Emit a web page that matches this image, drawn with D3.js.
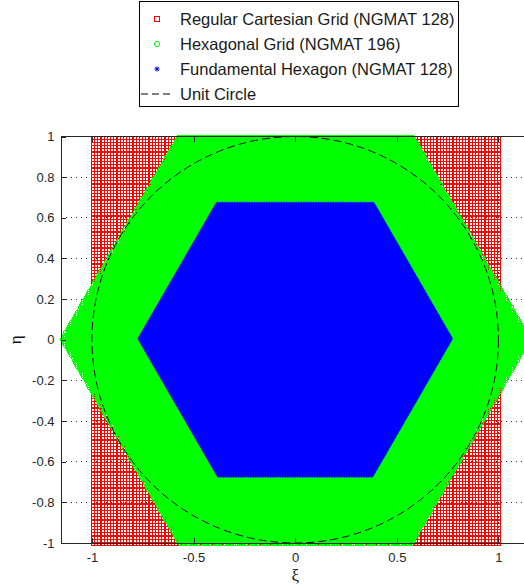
<!DOCTYPE html>
<html>
<head>
<meta charset="utf-8">
<script src="https://cdn.jsdelivr.net/npm/d3@7/dist/d3.min.js"></script>
<style>
  html, body { margin: 0; padding: 0; background: #fff; }
  svg { display: block; }
  text { font-family: "Liberation Sans", Arial, Helvetica, sans-serif; }
</style>
</head>
<body>
<svg id="chart" width="524" height="585"></svg>
<script>
// ---- series definitions -------------------------------------------------
const seriesNames  = ["Regular Cartesian Grid (NGMAT 128)",
                      "Hexagonal Grid (NGMAT 196)",
                      "Fundamental Hexagon (NGMAT 128)",
                      "Unit Circle"];
const seriesColors = ["#ff0000", "#00ff00", "#0000ff", "#000000"];
// number of grid rows for each sampled region
const ngmat        = [128, 196, 128];
// half-height (eta extent) of each sampled region
const halfHeight   = [1, 1, 2 / 3];
const circleRadius = [1];

// ---- axis ticks -----------------------------------------------------------
const xTicks = [-1, -0.5, 0, 0.5, 1];
const yTicks = [-1, -0.8, -0.6, -0.4, -0.2, 0, 0.2, 0.4, 0.6, 0.8, 1];
const xDomain = [-2 / Math.sqrt(3), 2 / Math.sqrt(3)];
const yDomain = [-1, 1];

// ---- layout ---------------------------------------------------------------
const W = 524, H = 585;
const plot = { left: 60.5, top: 136.5, bottom: 543 };
const unit = (plot.bottom - plot.top) / (yDomain[1] - yDomain[0]);
plot.right = plot.left + (xDomain[1] - xDomain[0]) * unit;

const x = d3.scaleLinear().domain(xDomain).range([plot.left, plot.right]);
const y = d3.scaleLinear().domain(yDomain).range([plot.bottom, plot.top]);

const svg = d3.select("#chart");

// ---- point sets -----------------------------------------------------------
// n x n Cartesian grid on [-h, h]^2
function cartesianGrid(n, h) {
  const pts = [];
  for (let i = 0; i < n; i++)
    for (let j = 0; j < n; j++)
      pts.push([-h + 2 * h * i / (n - 1), -h + 2 * h * j / (n - 1)]);
  return pts;
}
// hexagonal lattice with n rows spanning [-h, h], clipped to the
// flat-topped hexagon of half-height h
function hexGrid(n, h) {
  const s3 = Math.sqrt(3);
  const R = 2 * h / s3;
  const dy = 2 * h / (n - 1), dx = 2 * dy / s3;
  const pts = [];
  for (let k = 0; k < n; k++) {
    const eta = -h + k * dy;
    const half = R - Math.abs(eta) / s3 + 1e-9;
    const off = (k % 2) * dx / 2;
    const mMax = Math.ceil(half / dx) + 1;
    for (let m = -mMax; m <= mMax; m++) {
      const xi = m * dx + off;
      if (Math.abs(xi) <= half) pts.push([xi, eta]);
    }
  }
  return pts;
}

const cartPts = cartesianGrid(ngmat[0], halfHeight[0]);
const hexPts  = hexGrid(ngmat[1], halfHeight[1]);
const fundPts = hexGrid(ngmat[2], halfHeight[2]);

// markers are placed on whole pixels, as a screen renderer would
const px = v => Math.round(v) + 0.5;

// ---- marker path builders ---------------------------------------------
function squares(pts, s) {
  let d = "";
  for (const p of pts) {
    const X = px(x(p[0])), Y = px(y(p[1]));
    d += `M${X - s},${Y - s}h${2 * s}v${2 * s}h${-2 * s}Z`;
  }
  return d;
}
function rings(pts, r) {
  let d = "";
  for (const p of pts) {
    const X = px(x(p[0])), Y = px(y(p[1]));
    d += `M${X + r},${Y}A${r},${r} 0 1,1 ${X - r},${Y}A${r},${r} 0 1,1 ${X + r},${Y}`;
  }
  return d;
}
function asterisks(pts, r) {
  let d = "";
  const q = r * 0.7071;
  for (const p of pts) {
    const X = x(p[0]), Y = y(p[1]);
    d += `M${(X - r).toFixed(2)},${Y.toFixed(2)}h${2 * r}` +
         `M${X.toFixed(2)},${(Y - r).toFixed(2)}v${2 * r}` +
         `M${(X - q).toFixed(2)},${(Y - q).toFixed(2)}l${2 * q},${2 * q}` +
         `M${(X - q).toFixed(2)},${(Y + q).toFixed(2)}l${2 * q},${-2 * q}`;
  }
  return d;
}

// ---- grid lines (dotted, beneath the data) ------------------------------
const gridG = svg.append("g")
  .attr("stroke", "#333").attr("stroke-width", 1)
  .attr("stroke-dasharray", "1,4").attr("shape-rendering", "crispEdges");
gridG.selectAll("line.gy").data(yTicks).join("line")
  .attr("x1", plot.left).attr("x2", W)
  .attr("y1", d => y(d)).attr("y2", d => y(d));
gridG.selectAll("line.gx").data(xTicks).join("line")
  .attr("x1", d => x(d)).attr("x2", d => x(d))
  .attr("y1", plot.top).attr("y2", plot.bottom);

// ---- data ------------------------------------------------------------------
svg.append("path")
  .attr("d", squares(cartPts, 1.5))
  .attr("fill", "none").attr("stroke", seriesColors[0])
  .attr("stroke-width", 1).attr("shape-rendering", "crispEdges");

svg.append("path")
  .attr("d", rings(hexPts, 2))
  .attr("fill", "none").attr("stroke", seriesColors[1])
  .attr("stroke-width", 1).attr("shape-rendering", "crispEdges");

svg.append("path")
  .attr("d", asterisks(fundPts, 2.4))
  .attr("fill", "none").attr("stroke", seriesColors[2])
  .attr("stroke-width", 1.2);

svg.append("circle")
  .attr("cx", x(0)).attr("cy", y(0))
  .attr("r", x(circleRadius[0]) - x(0))
  .attr("fill", "none").attr("stroke", seriesColors[3])
  .attr("stroke-width", 1).attr("stroke-dasharray", "8,4");

// ---- axes --------------------------------------------------------------------
const axisColor = "#262626";
const fmt = d => String(d);

const yAxis = svg.append("g")
  .attr("transform", `translate(${plot.left},0)`)
  .call(d3.axisLeft(y).tickValues(yTicks).tickFormat(fmt)
        .tickSizeInner(-5).tickSizeOuter(0).tickPadding(6));
const xAxis = svg.append("g")
  .attr("transform", `translate(0,${plot.bottom})`)
  .call(d3.axisBottom(x).tickValues(xTicks).tickFormat(fmt)
        .tickSizeInner(-5).tickSizeOuter(0).tickPadding(10));
const xTop = svg.append("g")
  .attr("transform", `translate(0,${plot.top})`)
  .call(d3.axisTop(x).tickValues(xTicks).tickFormat("")
        .tickSizeInner(-5).tickSizeOuter(0));

[yAxis, xAxis, xTop].forEach(g => {
  g.attr("font-family", null).attr("font-size", null);
  g.selectAll("path.domain").attr("stroke", axisColor).attr("shape-rendering", "crispEdges");
  g.selectAll(".tick line").attr("stroke", axisColor).attr("shape-rendering", "crispEdges");
  g.selectAll(".tick text").attr("fill", axisColor).style("font-size", "13px");
});
// the top domain continues to the canvas edge
xTop.select("path.domain").attr("d", `M${plot.left},0H${W}`);

// axis titles
svg.append("text")
  .attr("x", x(0)).attr("y", 581)
  .attr("text-anchor", "middle")
  .style("font-family", "'Liberation Serif', 'DejaVu Serif', serif")
  .style("font-size", "17px").attr("fill", "#111")
  .text("ξ");
svg.append("text")
  .attr("transform", `translate(21,${y(0)}) rotate(-90)`)
  .attr("text-anchor", "middle")
  .style("font-family", "'Liberation Serif', 'DejaVu Serif', serif")
  .style("font-size", "17px").attr("fill", "#111")
  .text("η");

// ---- legend ----------------------------------------------------------------
const legend = svg.append("g");
const lg = { x: 139.5, y: 1.5, w: 319, h: 105, rowY0: 19, rowStep: 25, markX: 157, textX: 180 };
legend.append("rect")
  .attr("x", lg.x).attr("y", lg.y).attr("width", lg.w).attr("height", lg.h)
  .attr("fill", "#fff").attr("stroke", "#000").attr("stroke-width", 1);

const rows = legend.selectAll("g.row").data(seriesNames).join("g")
  .attr("transform", (d, i) => `translate(0,${lg.rowY0 + i * lg.rowStep})`);

rows.append("text")
  .attr("x", lg.textX).attr("dy", "0.36em")
  .style("font-size", "16.5px").attr("fill", "#1a1a1a")
  .text(d => d);

rows.each(function (d, i) {
  const g = d3.select(this);
  if (i === 0) {
    g.append("rect").attr("x", lg.markX - 2.5).attr("y", -2.5)
      .attr("width", 5).attr("height", 5)
      .attr("fill", "none").attr("stroke", seriesColors[0]);
  } else if (i === 1) {
    g.append("circle").attr("cx", lg.markX).attr("cy", 0).attr("r", 2.6)
      .attr("fill", "none").attr("stroke", seriesColors[1]);
  } else if (i === 2) {
    g.append("path").attr("d", asterisksAt(lg.markX, 0, 2.6))
      .attr("fill", "none").attr("stroke", seriesColors[2]).attr("stroke-width", 1);
  } else {
    g.append("line").attr("x1", lg.markX - 16).attr("x2", lg.markX + 17)
      .attr("y1", 0).attr("y2", 0)
      .attr("stroke", seriesColors[3]).attr("stroke-dasharray", "7,4");
  }
});

function asterisksAt(X, Y, r) {
  const q = r * 0.7071;
  return `M${X - r},${Y}h${2 * r}M${X},${Y - r}v${2 * r}` +
         `M${X - q},${Y - q}l${2 * q},${2 * q}M${X - q},${Y + q}l${2 * q},${-2 * q}`;
}
</script>
</body>
</html>
